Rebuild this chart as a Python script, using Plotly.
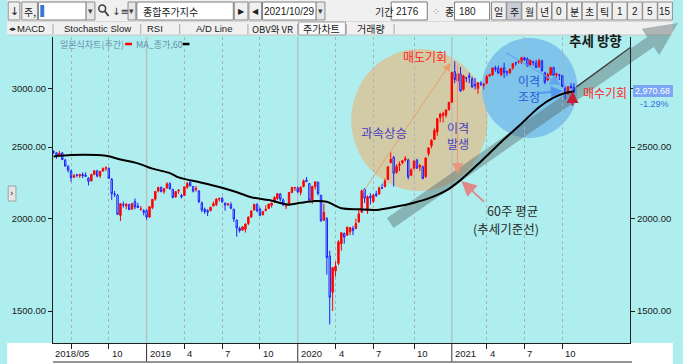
import plotly.graph_objects as go
import pandas as pd
import math

# ---------------- data (KOSPI weekly) ----------------
DATES = [d.strftime("%Y-%m-%d") for d in pd.date_range("2018-05-25", "2021-10-29", freq="W-FRI")]

OPEN = [2465, 2455, 2440, 2455, 2400, 2355, 2320, 2275, 2290, 2285, 2295, 2290, 2270, 2250, 2295, 2320,
        2285, 2320, 2340, 2340, 2260, 2160, 2150, 2020, 2090, 2080, 2090, 2060, 2110, 2080, 2060, 2050,
        2050, 2010, 2070, 2125, 2180, 2205, 2175, 2200, 2230, 2190, 2140, 2180, 2150, 2150, 2205, 2240,
        2210, 2190, 2180, 2100, 2060, 2050, 2050, 2080, 2090, 2125, 2130, 2100, 2090, 2090, 2060, 1990,
        1940, 1930, 1935, 1970, 2010, 2055, 2090, 2060, 2025, 2050, 2065, 2085, 2110, 2130, 2160, 2120,
        2080, 2090, 2170, 2200, 2200, 2170, 2210, 2255, 2230, 2120, 2210, 2240, 2150, 1990, 2000, 1780,
        1590, 1700, 1740, 1850, 1910, 1900, 1920, 1940, 1940, 1980, 2040, 2190, 2050, 2145, 2110, 2160,
        2160, 2200, 2210, 2260, 2380, 2420, 2310, 2360, 2380, 2400, 2400, 2290, 2340, 2400, 2350, 2350,
        2280, 2450, 2510, 2560, 2620, 2740, 2760, 2760, 2810, 2874, 3161, 3070, 3140, 2990, 3100, 3120,
        3090, 3040, 3000, 3050, 3030, 3050, 3120, 3130, 3200, 3190, 3130, 3200, 3160, 3150, 3200, 3250,
        3260, 3250, 3300, 3290, 3230, 3260, 3250, 3210, 3270, 3150, 3080, 3130, 3200, 3130, 3130, 3120,
        3000, 2950, 3020, 3010]
HIGH = [2475, 2460, 2470, 2460, 2410, 2360, 2330, 2300, 2300, 2300, 2310, 2310, 2275, 2300, 2325, 2330,
        2320, 2345, 2355, 2345, 2270, 2180, 2160, 2100, 2110, 2100, 2095, 2100, 2130, 2100, 2080, 2060,
        2060, 2080, 2125, 2180, 2210, 2210, 2200, 2240, 2240, 2195, 2180, 2190, 2160, 2210, 2240, 2252,
        2215, 2215, 2185, 2110, 2070, 2060, 2075, 2110, 2130, 2135, 2140, 2100, 2100, 2105, 2060, 1995,
        1950, 1955, 1970, 2015, 2050, 2095, 2100, 2070, 2050, 2085, 2095, 2100, 2145, 2165, 2165, 2130,
        2090, 2170, 2205, 2205, 2210, 2210, 2260, 2277, 2235, 2215, 2245, 2245, 2155, 2095, 2010, 1810,
        1720, 1750, 1870, 1915, 1915, 1950, 1945, 1955, 2000, 2060, 2190, 2200, 2150, 2165, 2160, 2180,
        2210, 2230, 2265, 2350, 2458, 2430, 2370, 2390, 2400, 2430, 2410, 2340, 2400, 2410, 2370, 2360,
        2420, 2500, 2560, 2650, 2735, 2780, 2790, 2810, 2878, 3161, 3266, 3160, 3208, 3130, 3110, 3150,
        3110, 3100, 3060, 3070, 3050, 3130, 3140, 3200, 3220, 3220, 3200, 3250, 3170, 3190, 3250, 3260,
        3280, 3310, 3310, 3305, 3280, 3270, 3280, 3290, 3280, 3160, 3150, 3210, 3210, 3150, 3140, 3130,
        3020, 3020, 3050, 3050]
LOW = [2445, 2410, 2430, 2400, 2350, 2310, 2243, 2270, 2275, 2270, 2270, 2280, 2218, 2245, 2290, 2275,
       2270, 2315, 2320, 2265, 2120, 2140, 2030, 1985, 2070, 2060, 2055, 2060, 2060, 2070, 2050, 2020,
       1993, 2005, 2060, 2115, 2170, 2170, 2160, 2195, 2190, 2130, 2135, 2160, 2130, 2145, 2195, 2210,
       2170, 2175, 2100, 2040, 2030, 2016, 2050, 2080, 2080, 2110, 2100, 2050, 2080, 2060, 1980, 1891,
       1915, 1925, 1915, 1960, 2005, 2050, 2040, 2015, 2020, 2050, 2060, 2070, 2100, 2120, 2110, 2080,
       2060, 2090, 2165, 2180, 2165, 2150, 2205, 2240, 2110, 2095, 2190, 2150, 1980, 1985, 1680, 1439,
       1500, 1670, 1730, 1810, 1850, 1895, 1900, 1900, 1935, 1975, 2035, 2100, 2030, 2090, 2100, 2140,
       2155, 2195, 2205, 2255, 2380, 2210, 2300, 2320, 2370, 2390, 2260, 2285, 2330, 2335, 2320, 2260,
       2270, 2430, 2490, 2560, 2590, 2700, 2700, 2740, 2800, 2869, 3050, 2990, 2970, 2980, 3060, 3050,
       3010, 2990, 2950, 3020, 2990, 3040, 3110, 3120, 3160, 3140, 3120, 3100, 3120, 3140, 3180, 3220,
       3240, 3240, 3270, 3210, 3220, 3220, 3200, 3200, 3160, 3040, 3070, 3120, 3120, 3100, 3080, 3010,
       2900, 2940, 3000, 2960]
CLOSE = [2460, 2438, 2451, 2404, 2357, 2326, 2272, 2286, 2289, 2295, 2287, 2282, 2247, 2294, 2322, 2283,
         2318, 2339, 2343, 2268, 2161, 2156, 2027, 2096, 2086, 2092, 2057, 2097, 2075, 2070, 2061, 2041,
         2010, 2075, 2124, 2177, 2203, 2177, 2196, 2230, 2195, 2137, 2176, 2186, 2141, 2209, 2233, 2216,
         2179, 2196, 2108, 2055, 2045, 2041, 2072, 2095, 2126, 2130, 2110, 2086, 2094, 2066, 1998, 1943,
         1927, 1949, 1967, 2009, 2049, 2091, 2050, 2021, 2044, 2060, 2093, 2100, 2137, 2162, 2125, 2087,
         2081, 2170, 2205, 2204, 2176, 2206, 2250, 2246, 2119, 2211, 2243, 2162, 1987, 2040, 1771, 1566,
         1717, 1725, 1861, 1914, 1889, 1948, 1945, 1927, 1970, 2030, 2181, 2132, 2141, 2134, 2152, 2150,
         2201, 2200, 2249, 2351, 2407, 2304, 2353, 2368, 2396, 2412, 2278, 2327, 2391, 2341, 2360, 2267,
         2416, 2493, 2553, 2633, 2731, 2770, 2772, 2806, 2873, 3152, 3085, 3140, 2976, 3120, 3100, 3107,
         3013, 3026, 3054, 3039, 3041, 3112, 3131, 3198, 3186, 3147, 3197, 3153, 3156, 3188, 3240, 3249,
         3267, 3302, 3281, 3217, 3276, 3254, 3202, 3270, 3171, 3060, 3133, 3201, 3125, 3140, 3125, 3019,
         2956, 3015, 3007, 2971]

# 60-week moving average (week index -> value)
MA_IDX = [0, 6, 18, 23, 29, 34, 40, 43, 51, 57, 62, 68, 74, 79, 81, 85, 90, 94, 99, 105, 111, 118,
          124, 129, 135, 140, 147, 154, 161, 167, 172, 176, 179]
MA_VAL = [2428, 2438, 2432, 2405, 2376, 2337, 2305, 2274, 2237, 2207, 2178, 2138, 2119, 2096, 2089, 2101,
          2113, 2108, 2066, 2059, 2055, 2077, 2102, 2130, 2182, 2255, 2390, 2540, 2690, 2830, 2915, 2958, 2972]

Y_TICKS = [1500, 2000, 2500, 3000]
Y_TICKTEXT = ["1500.00", "2000.00", "2500.00", "3000.00"]
Y_TICKTEXT_RIGHT = ["1500.00", "2000.00", "2500.00", ""]   # 3000.00 is hidden by the price box
QTR_IDX = [6, 19, 45, 58, 71, 97, 110, 124, 149, 162, 175]
YEAR_IDX = [32, 84, 137]
X_LABELS = [(19, "10"), (32, "2019"), (45, "4"), (58, "7"), (71, "10"), (84, "2020"), (97, "4"),
            (110, "7"), (124, "10"), (137, "2021"), (149, "4"), (162, "7"), (175, "10")]
LAST_PRICE = "2,970.68"
LAST_CHG = "-1.29%"

# ---------------- geometry helpers ----------------
W, H = 683, 364
L, R, T, B = 47, 639, 37, 343
XR = (-0.2, 198.3)
YR = (3.13283, 3.54673)
KR = "Noto Sans CJK KR"
LAT = "Liberation Sans"
CYAN = "#AFEEEE"


def px(x):
    return (x - L) / (R - L)


def py(y):
    return (B - y) / (B - T)


def ix(i):
    return L + (i - XR[0]) / (XR[1] - XR[0]) * (R - L)


shapes = []
annots = []


def rect(x0, y0, x1, y1, fill, line=None, lw=1, layer="below"):
    shapes.append(dict(type="rect", xref="paper", yref="paper", x0=px(x0), x1=px(x1), y0=py(y1), y1=py(y0),
                       fillcolor=fill, line=dict(color=line or fill, width=lw if line else 0), layer=layer))


def seg(x0, y0, x1, y1, color, width=1, dash="solid", layer="below"):
    shapes.append(dict(type="line", xref="paper", yref="paper", x0=px(x0), x1=px(x1), y0=py(y0), y1=py(y1),
                       line=dict(color=color, width=width, dash=dash), layer=layer))


def ellipse(cx, cy, rx, ry, fill, layer="below"):
    shapes.append(dict(type="circle", xref="paper", yref="paper", x0=px(cx - rx), x1=px(cx + rx),
                       y0=py(cy + ry), y1=py(cy - ry), fillcolor=fill, line=dict(width=0), layer=layer))


def poly(points, fill, layer="below"):
    p = "M " + " L ".join(f"{px(x):.5f},{py(y):.5f}" for x, y in points) + " Z"
    shapes.append(dict(type="path", xref="paper", yref="paper", path=p, fillcolor=fill,
                       line=dict(width=0), layer=layer))


def txt(s, x, y, size=10, color="#202020", xanchor="center", family=KR, yanchor="middle"):
    annots.append(dict(text=s, x=px(x), y=py(y), xref="paper", yref="paper", showarrow=False,
                       xanchor=xanchor, yanchor=yanchor, font=dict(family=family, size=size, color=color)))


def arrow(x0, y0, x1, y1, color, width=1, head=2, size=1.0):
    annots.append(dict(text="", x=px(x1), y=py(y1), xref="paper", yref="paper", showarrow=True,
                       ax=x0 - x1, ay=y0 - y1, axref="pixel", ayref="pixel", arrowcolor=color,
                       arrowwidth=width, arrowhead=head, arrowsize=size, standoff=0, startstandoff=0))


# ---------------- background chrome ----------------
rect(0, 343, 683, 364, "#FFFFFF")
rect(0, 0, 683, 35, "#F0F0F0")
seg(0, 21.5, 683, 21.5, "#D8D8D8")
seg(0, 35, 683, 35, "#C8C8C8")

# toolbar row 1
rect(1, 2, 13, 20, "#F0F0F0", "#8C8C8C")
txt("↓", 7, 11, 11, "#202020", family="DejaVu Sans")
rect(15, 2, 31, 20, "#F0F0F0", "#8C8C8C")
txt("주,", 23, 11, 10)
rect(32, 2, 81, 20, "#FFFFFF", "#7A7A7A")
rect(34, 5, 38, 17, "#3875D7")
rect(81, 2, 90, 20, "#E8E8E8", "#8C8C8C")
txt("▾", 85.5, 11, 9, "#404040", family="DejaVu Sans")
shapes.append(dict(type="circle", xref="paper", yref="paper", x0=px(94), x1=px(101), y0=py(12), y1=py(5),
                   line=dict(color="#404040", width=1.5), layer="below"))
seg(100, 11, 104, 16, "#404040", 2)
txt("↓≡", 116, 11, 10, "#303030", family="DejaVu Sans")
rect(124, 2, 132, 20, "#E8E8E8", "#8C8C8C")
txt("▾", 128, 11, 9, "#404040", family="DejaVu Sans")
rect(133, 2, 232, 20, "#FFFFFF", "#7A7A7A")
txt("종합주가지수", 137, 11, 10, "#202020", xanchor="left")
rect(233, 2, 247, 20, "#F0F0F0", "#8C8C8C")
txt("▶", 240, 11, 8, "#202020", family="DejaVu Sans")
rect(248, 2, 261, 20, "#F0F0F0", "#8C8C8C")
txt("◀", 254.5, 11, 8, "#202020", family="DejaVu Sans")
rect(262, 2, 317, 20, "#FFFFFF", "#7A7A7A")
txt("2021/10/29", 289.5, 11, 10, "#202020", family=LAT)
rect(317, 2, 326, 20, "#E8E8E8", "#8C8C8C")
txt("▾", 321.5, 11, 9, "#404040", family="DejaVu Sans")
txt("기간", 387, 11, 10)
rect(394, 2, 431, 20, "#FFFFFF", "#7A7A7A")
txt("2176", 397, 11, 10, "#202020", xanchor="left", family=LAT)
txt("⁘", 440, 11, 10, "#909090", family="DejaVu Sans")
txt("종", 454, 11, 10)
rect(459, 2, 495, 20, "#FFFFFF", "#7A7A7A")
txt("180", 462, 11, 10, "#202020", xanchor="left", family=LAT)
BTN = ["일", "주", "월", "년", "0", "분", "초", "틱", "1", "2", "5", "15"]
for i, lab in enumerate(BTN):
    x0 = 497 + i * 15.5
    rect(x0, 2, x0 + 15, 20, "#C9CED6" if lab == "주" else "#F0F0F0", "#8C8C8C")
    txt(lab, x0 + 7.5, 11, 10, "#202020", family=KR if not lab.isdigit() else LAT)

# toolbar row 2 (tabs)
rect(299, 22, 347, 35, "#FAFAFA", "#A0A0A0")
for xs in [47, 137, 177, 247, 298, 348, 397]:
    seg(xs, 24, xs, 34, "#A8A8A8")
txt("◂▸", 6, 28.5, 7, "#202020", family="DejaVu Sans")
txt("MACD", 24, 28.5, 9.5, "#202020", family=LAT)
txt("Stochastic Slow", 93, 28.5, 9.5, "#202020", family=LAT)
txt("RSI", 152, 28.5, 9.5, "#202020", family=LAT)
txt("A/D Line", 212, 28.5, 9.5, "#202020", family=LAT)
txt("OBV와 VR", 272, 28.5, 9.5, "#202020")
txt("주가차트", 322, 28.5, 10, "#202020")
txt("거래량", 373, 28.5, 10, "#202020")

# left handle
rect(1, 186, 9, 201, "#E6E6E6", "#A0A0A0")
txt("›", 5, 193, 9, "#202020", family="DejaVu Sans")

# ---------------- annotation overlays (below traces) ----------------
ellipse(423, 120, 70, 71, "#D3CBA6")
ellipse(536, 88, 49, 50, "#7FC4EA")
for i in YEAR_IDX:
    seg(ix(i), T, ix(i), B, "#B5C2C2", 1.5)
# trend band with arrowhead
ax0, ay0, ax1, ay1 = 393, 223, 660, 42
dx, dy = ax1 - ax0, ay1 - ay0
ln = math.hypot(dx, dy)
ux, uy = dx / ln, dy / ln
nx, ny = -uy, ux
w, hw, tl = 6, 16, 34
band = [(ax0 + nx * w, ay0 + ny * w), (ax1 + nx * w, ay1 + ny * w), (ax1 + nx * hw, ay1 + ny * hw),
        (ax1 + ux * tl, ay1 + uy * tl), (ax1 - nx * hw, ay1 - ny * hw), (ax1 - nx * w, ay1 - ny * w),
        (ax0 - nx * w, ay0 - ny * w)]
poly(band, "rgba(80,100,100,0.42)")

# bottom axis decorations
for i in YEAR_IDX:
    seg(ix(i), B, ix(i), 362, "#303030", 1)
seg(L, 362, 641, 362, "#707070", 1.5)

# ---------------- traces ----------------
fig = go.Figure()
fig.add_trace(go.Candlestick(
    x=DATES, open=OPEN, high=HIGH, low=LOW, close=CLOSE,
    increasing=dict(line=dict(color="#FF0000", width=1), fillcolor="#FF0000"),
    decreasing=dict(line=dict(color="#1F1FFF", width=1), fillcolor="rgba(0,0,0,0)"),
    whiskerwidth=0, showlegend=False, hoverinfo="skip"))
fig.add_trace(go.Scatter(
    x=[DATES[i] for i in MA_IDX], y=MA_VAL, mode="lines",
    line=dict(color="#000000", width=2, shape="spline", smoothing=0.8),
    showlegend=False, hoverinfo="skip"))
fig.add_trace(go.Scatter(x=[DATES[0]], y=[2000], yaxis="y2", mode="markers",
                         marker=dict(opacity=0), showlegend=False, hoverinfo="skip"))

# ---------------- texts / arrows ----------------
txt("일본식차트(주간)", 52, 44, 9, "#6A8CAA", xanchor="left")
seg(121, 44, 128, 44, "#FF0000", 2.5, layer="above")
txt("MA_종가,60", 130, 44, 9, "#6A8CAA", xanchor="left")
seg(180, 44, 187, 44, "#000000", 2.5, layer="above")

arrow(366, 194, 455, 63, "rgba(240,150,100,0.85)", 1, 2, 1.6)
arrow(462, 63, 462, 174, "rgba(236,150,125,0.95)", 1, 2, 2.2)
arrow(490, 203, 466, 181, "rgba(232,125,125,0.9)", 2, 2, 1.5)
arrow(512, 52, 568, 85, "rgba(95,165,240,0.95)", 1.2, 2, 1.8)
arrow(545, 93, 570, 91, "rgba(80,150,240,0.95)", 2, 2, 1.2)
arrow(580, 107, 580, 91, "#C41E3A", 2, 2, 1.2)
arrow(584, 88, 640, 47, "#404040", 1.5, 0, 1)

txt("매도기회", 429, 56, 12, "#FF1E1E")
txt("과속상승", 387, 132, 12.5, "#4A3DBE")
txt("이격<br>발생", 463, 135, 12, "#4A3DBE")
txt("이격<br>조정", 535, 89, 12, "#2458E0")
txt("매수기회", 613, 92, 12, "#FF1E1E")
txt("<b>추세 방향</b>", 604, 40, 13.5, "#1A1A1A")
txt("60주 평균", 518, 210, 12.5, "#2A2A2A")
txt("(추세기준선)", 512, 228, 12.5, "#2A2A2A")

# last price box
rect(642, 85, 683, 97, "#7BA4F2", layer="above")
txt(LAST_PRICE, 662.5, 91, 9, "#FFFFFF", family=LAT)
txt(LAST_CHG, 664, 104, 9, "#2F6FE0", family=LAT)

# x labels
txt("2018/05", L + 0.5, 353, 9.5, "#202020", xanchor="left", family=LAT)
for i, s in X_LABELS:
    txt(s, ix(i) + 1, 353, 9.5, "#202020", xanchor="left", family=LAT)

# ---------------- layout ----------------
yax = dict(type="log", range=list(YR), tickvals=Y_TICKS, ticktext=Y_TICKTEXT, ticks="outside", ticklen=4,
           tickcolor="#202020", showline=True, linecolor="#202020", linewidth=1, showgrid=False,
           zeroline=False, tickfont=dict(family=LAT, size=9.5, color="#202020"), fixedrange=True)
fig.update_layout(
    width=W, height=H, autosize=False,
    margin=dict(l=L, r=W - R, t=T, b=H - B, pad=0),
    paper_bgcolor=CYAN, plot_bgcolor=CYAN,
    xaxis=dict(type="category", categoryorder="array", categoryarray=DATES, range=list(XR),
               tickvals=[DATES[i] for i in QTR_IDX], showticklabels=False, ticks="outside", ticklen=5,
               tickcolor="#202020", showgrid=True, gridcolor="#A8B4B4", griddash="dot", gridwidth=1,
               showline=True, linecolor="#202020", linewidth=1, rangeslider=dict(visible=False),
               zeroline=False, fixedrange=True),
    yaxis=yax,
    yaxis2=dict(yax, overlaying="y", side="right", ticktext=Y_TICKTEXT_RIGHT),
    shapes=shapes, annotations=annots, showlegend=False,
)
fig.write_html("out.html", config={"displayModeBar": False},
               post_script="document.body.style.margin='0';document.body.style.padding='0';")
